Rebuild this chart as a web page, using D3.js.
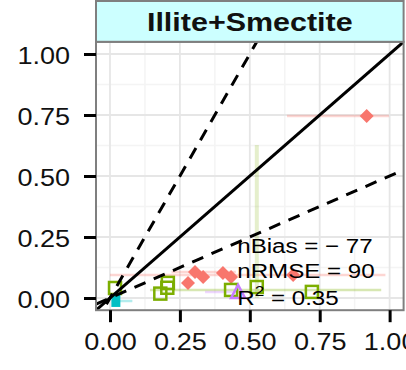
<!DOCTYPE html>
<html><head><meta charset="utf-8">
<script src="https://cdn.jsdelivr.net/npm/d3@7"></script>
<style>
html,body{margin:0;padding:0;background:#fff;}
svg{display:block;}
text{font-family:"Liberation Sans",Arial,sans-serif;}
</style></head>
<body>
<svg id="chart" width="406" height="370"></svg>
<script>
// ---- data ----
const panelTitle = "Illite+Smectite";
const xTicks = [0, 0.25, 0.5, 0.75, 1];
const yTicks = [0, 0.25, 0.5, 0.75, 1];

// red diamonds
const redX = [0.918, 0.279, 0.304, 0.333, 0.404, 0.433, 0.655];
const redY = [0.746, 0.061, 0.107, 0.086, 0.102, 0.086, 0.094];
const redXmin = [0.633, null, 0.22, null, null, null, 0.0];
const redXmax = [0.998, null, 0.45, null, null, null, 0.985];

// green open squares
const greenX = [0.018, 0.180, 0.205, 0.207, 0.433, 0.525, 0.722];
const greenY = [0.041, 0.018, 0.042, 0.062, 0.033, 0.045, 0.025];
const greenXmin = [null, null, null, null, 0.143, null, null];
const greenXmax = [null, null, null, null, 0.97, null, null];
const greenYmin = [null, null, null, null, null, 0.0, null];
const greenYmax = [null, null, null, null, null, 0.627, null];

// purple open triangle
const purpleX = [0.458];
const purpleY = [0.025];
const purpleXmin = [0.34];
const purpleXmax = [0.49];

// cyan filled square
const cyanX = [0.021];
const cyanY = [-0.012];
const cyanXmin = [0.03];
const cyanXmax = [0.08];

// reference lines: slope
const refSlopes = [1, 2, 0.5];
const refDash = [null, "12,9", "12,9"];

const stats = {bias: "− 77", rmse: "90", r2: "0.35"};

// ---- layout ----
const svg = d3.select("#chart");
const x = d3.scaleLinear().domain([-0.05, 1.05]).range([96, 403.6]);
const y = d3.scaleLinear().domain([-0.05, 1.05]).range([310.2, 41.8]);
const SX = 1.15;
const X0 = x.range()[0], X1 = x.range()[1], Y0 = y.range()[1], Y1 = y.range()[0];

svg.append("defs").append("clipPath").attr("id","clip")
  .append("rect").attr("x",X0).attr("y",Y0).attr("width",X1-X0).attr("height",Y1-Y0);

svg.append("rect").attr("x",X0).attr("y",Y0).attr("width",X1-X0).attr("height",Y1-Y0).attr("fill","#fff");

const g = svg.append("g").attr("clip-path","url(#clip)");
const minor = [-0.125,0.125,0.375,0.625,0.875,1.125];
g.selectAll(".mgx").data(minor).enter().append("line")
  .attr("x1",d=>x(d)).attr("x2",d=>x(d)).attr("y1",Y0).attr("y2",Y1)
  .attr("stroke","#f4f4f4").attr("stroke-width",1.5);
g.selectAll(".mgy").data(minor).enter().append("line")
  .attr("y1",d=>y(d)).attr("y2",d=>y(d)).attr("x1",X0).attr("x2",X1)
  .attr("stroke","#f4f4f4").attr("stroke-width",1.5);
g.selectAll(".gx").data(xTicks).enter().append("line")
  .attr("x1",d=>x(d)).attr("x2",d=>x(d)).attr("y1",Y0).attr("y2",Y1)
  .attr("stroke","#e6e6e6").attr("stroke-width",1.8);
g.selectAll(".gy").data(yTicks).enter().append("line")
  .attr("y1",d=>y(d)).attr("y2",d=>y(d)).attr("x1",X0).attr("x2",X1)
  .attr("stroke","#e6e6e6").attr("stroke-width",1.8);

function hbars(xs, ys, mins, maxs, col){
  xs.forEach((v,i)=>{
    if(mins[i]==null) return;
    g.append("line").attr("x1",x(mins[i])).attr("x2",x(maxs[i]))
      .attr("y1",y(ys[i])).attr("y2",y(ys[i]))
      .attr("stroke",col).attr("stroke-opacity",0.3).attr("stroke-width",2.5);
  });
}
function vbars(xs, mins, maxs, col){
  xs.forEach((v,i)=>{
    if(mins[i]==null) return;
    g.append("line").attr("x1",x(v)).attr("x2",x(v))
      .attr("y1",y(mins[i])).attr("y2",y(maxs[i]))
      .attr("stroke",col).attr("stroke-opacity",0.2).attr("stroke-width",4);
  });
}
hbars(redX, redY, redXmin, redXmax, "#F8766D");
hbars(greenX, greenY, greenXmin, greenXmax, "#7CAE00");
vbars(greenX, greenYmin, greenYmax, "#7CAE00");
hbars(purpleX, purpleY, purpleXmin, purpleXmax, "#C77CFF");
hbars(cyanX, cyanY, cyanXmin, cyanXmax, "#00BFC4");

// points
g.selectAll(".red").data(redX).enter().append("path")
  .attr("d", d3.symbol().type(d3.symbolSquare).size(98))
  .attr("transform",(d,i)=>`translate(${x(d)},${y(redY[i])}) rotate(45)`)
  .attr("fill","#F8766D");
g.selectAll(".green").data(greenX).enter().append("rect")
  .attr("x",d=>x(d)-6).attr("y",(d,i)=>y(greenY[i])-6)
  .attr("width",12).attr("height",12)
  .attr("fill","none").attr("stroke","#7CAE00").attr("stroke-width",2.5);
g.selectAll(".purple").data(purpleX).enter().append("path")
  .attr("d", (d,i)=>{const cx=x(d), cy=y(purpleY[i]); return `M${cx},${cy-7}L${cx+7},${cy+6}L${cx-7},${cy+6}Z`;})
  .attr("fill","none").attr("stroke","#C77CFF").attr("stroke-width",2.5);
g.selectAll(".cyan").data(cyanX).enter().append("rect")
  .attr("x",d=>x(d)-4.5).attr("y",(d,i)=>y(cyanY[i])-6)
  .attr("width",9).attr("height",12).attr("fill","#00BFC4");

// reference lines
refSlopes.forEach((s,i)=>{
  const xs = [-0.05, 1.05];
  g.append("line").attr("x1",x(xs[0])).attr("y1",y(xs[0]*s))
    .attr("x2",x(xs[1])).attr("y2",y(xs[1]*s))
    .attr("stroke","#000").attr("stroke-width",3)
    .attr("stroke-dasharray",refDash[i]);
});

// annotation
const ax = x(0.455);
function ann(yv, build){
  const t = svg.append("text").attr("transform",`translate(${ax},${y(yv)}) scale(${SX},1)`)
    .attr("font-size",21).attr("fill","#000");
  build(t);
}
ann(0.185, t=>t.text(`nBias = ${stats.bias}`));
ann(0.082, t=>t.text(`nRMSE = ${stats.rmse}`));
ann(-0.028, t=>{t.append("tspan").text("R");
  t.append("tspan").attr("font-size",15).attr("dy",-9).text("2");
  t.append("tspan").attr("dy",9).text(` = ${stats.r2}`);});

// panel border
svg.append("rect").attr("x",X0).attr("y",Y0).attr("width",X1-X0).attr("height",Y1-Y0)
  .attr("fill","none").attr("stroke","#7f7f7f").attr("stroke-width",2);

// strip
svg.append("rect").attr("x",X0).attr("y",1).attr("width",X1-X0).attr("height",Y0-1)
  .attr("fill","#CCFFFF").attr("stroke","#7f7f7f").attr("stroke-width",2);
svg.append("text").attr("transform",`translate(${(X0+X1)/2},31) scale(${SX},1)`)
  .attr("text-anchor","middle").attr("font-size",26.5).attr("font-weight","bold")
  .attr("fill","#111").text(panelTitle);

// axes
const fmt = d3.format(".2f");
const yAxis = svg.append("g").attr("transform",`translate(${X0},0)`)
  .call(d3.axisLeft(y).tickValues(yTicks).tickFormat(fmt).tickSize(12).tickPadding(10.6));
yAxis.select(".domain").remove();
yAxis.selectAll(".tick line").attr("stroke","#000").attr("stroke-width",3);
yAxis.selectAll(".tick text").attr("font-size",23.5).attr("fill","#111")
  .attr("dy","0.4em").attr("transform",`scale(${SX},1)`);

const xAxis = svg.append("g").attr("transform",`translate(0,${Y1})`)
  .call(d3.axisBottom(x).tickValues(xTicks).tickFormat(fmt).tickSize(12));
xAxis.select(".domain").remove();
xAxis.selectAll(".tick line").attr("stroke","#000").attr("stroke-width",3);
xAxis.selectAll(".tick text").attr("font-size",23.5).attr("fill","#111")
  .attr("y",40).attr("dy","0").attr("transform",`scale(${SX},1)`);
</script>
</body></html>
